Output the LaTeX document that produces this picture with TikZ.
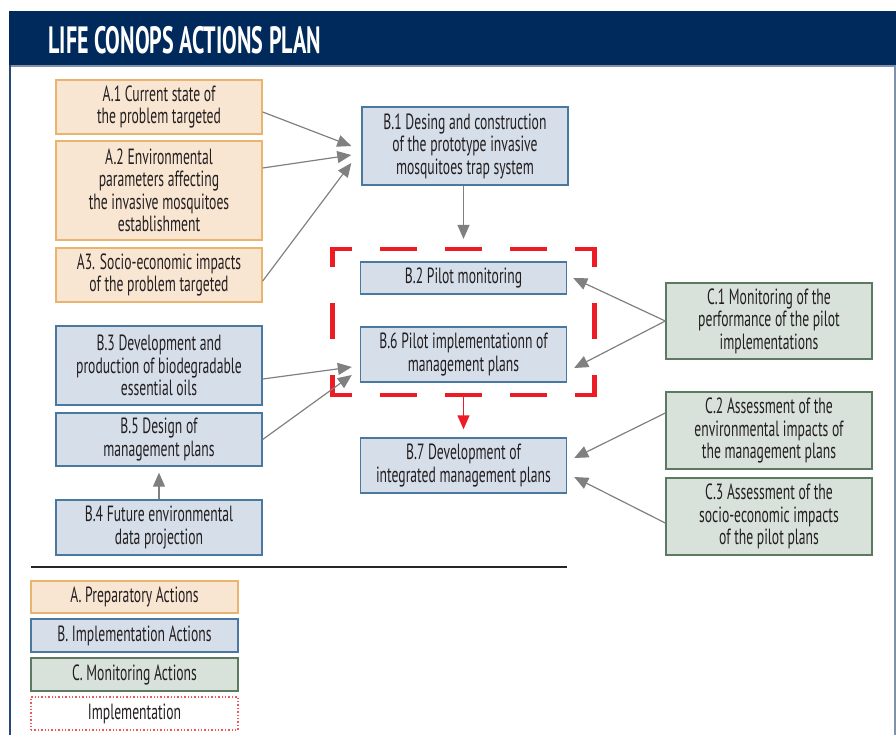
\documentclass[tikz,border=0pt]{standalone}
\usepackage{fontspec}
\setmainfont{PT Sans}[FakeStretch=0.62]
\newfontfamily\titlefont{PT Sans}[FakeStretch=0.58]
\usetikzlibrary{arrows.meta,positioning,fit}

\definecolor{navy}{RGB}{0,42,92}
\definecolor{framegray}{RGB}{128,145,171}
\definecolor{prepfill}{RGB}{249,230,210}
\definecolor{prepline}{RGB}{233,180,110}
\definecolor{implfill}{RGB}{214,222,234}
\definecolor{implline}{RGB}{74,121,160}
\definecolor{monfill}{RGB}{217,226,218}
\definecolor{monline}{RGB}{92,122,96}
\definecolor{arrowgray}{RGB}{128,128,128}
\definecolor{pilotred}{RGB}{237,28,36}
\definecolor{txt}{RGB}{35,31,32}

\tikzset{
  actbox/.style={draw, line width=0.7pt, text=txt, align=center, minimum width=103pt, inner sep=1pt, font=\fontsize{11}{11.25}\selectfont},
  prep/.style={actbox, draw=prepline, fill=prepfill},
  impl/.style={actbox, draw=implline, fill=implfill},
  mon/.style={actbox, draw=monline, fill=monfill},
  link/.style={draw=arrowgray, line width=0.6pt, -{Triangle[length=7pt,width=6pt]}},
  redlink/.style={draw=pilotred, line width=0.7pt, -{Triangle[length=7pt,width=6pt]}},
  pilot/.style={draw=pilotred, line width=2.2pt, line cap=rect},
}

\begin{document}
\begin{tikzpicture}[x=0.5pt,y=-0.5pt]
\useasboundingbox (0,0) rectangle (896,735);

% header and frame
\fill[navy] (9,11) rectangle (896,65);
\node[anchor=base west, inner sep=0, text=white, font=\titlefont\fontsize{19}{19}\selectfont\bfseries] (title) at (48,53) {LIFE CONOPS ACTIONS PLAN};
\draw[framegray, line width=0.8pt] (10,66) -- (895,66);
\draw[framegray, line width=0.8pt] (895,65) -- (895,735);
\draw[navy!85, line width=0.9pt] (10,65) -- (10,735);

% A actions
\node[prep, minimum height=27pt] (a1) at (159,107) {A.1 Current state of\\the problem targeted};
\node[prep, minimum height=49.5pt] (a2) at (159,190.5) {A.2 Environmental\\parameters affecting\\the invasive mosquitoes\\establishment};
\node[prep, minimum height=27pt] (a3) at (159,275) {A3. Socio-economic impacts\\of the problem targeted};

% B actions
\node[impl, minimum height=39.5pt] (b3) at (159,365.5) {B.3 Development and\\production of biodegradable\\essential oils};
\node[impl, minimum height=26.5pt] (b5) at (159,439.5) {B.5 Design of\\management plans};
\node[impl, minimum height=27.5pt] (b4) at (159,527.5) {B.4 Future environmental\\data projection};
\node[impl, minimum height=39pt] (b1) at (465,146) {B.1 Desing and construction\\of the prototype invasive\\mosquitoes trap system};
\node[impl, minimum height=16pt] (b2) at (463.5,278) {B.2 Pilot monitoring};
\node[impl, minimum height=27.5pt] (b6) at (463.5,354.5) {B.6 Pilot implementationn of\\management plans};
\node[impl, minimum height=27.5pt] (b7) at (463.5,465.5) {B.7 Development of\\integrated management plans};

% C actions
\node[mon, minimum height=38pt] (c1) at (769,321) {C.1 Monitoring of the\\performance of the pilot\\implementations};
\node[mon, minimum height=38.5pt] (c2) at (769,430.5) {C.2 Assessment of the\\environmental impacts of\\the management plans};
\node[mon, minimum height=38.5pt] (c3) at (769,516.5) {C.3 Assessment of the\\socio-economic impacts\\of the pilot plans};

% pilot group, dashed red
\node[fit=(b2)(b6), inner xsep=13.5pt, inner ysep=6pt] (pilot) {};
\foreach \s/\e in {north west/north east, south west/south east}
  \draw[pilot, dash pattern=on 16pt off 16.5pt, dash phase=7.5pt] (pilot.\s) -- (pilot.\e);
\foreach \s/\e in {north west/south west, north east/south east}
  \draw[pilot, dash pattern=on 16pt off 20pt, dash phase=8pt] (pilot.\s) -- (pilot.\e);

% links
\draw[link] ([yshift=-2.5pt]a1.east) -- ([xshift=-5pt]b1.west);
\draw[link] ([yshift=11.25pt]a2.east) -- ([xshift=-5pt,yshift=-4.5pt]b1.west);
\draw[link] ([yshift=-3pt]a3.east) -- ([xshift=-5pt,yshift=-8.5pt]b1.west);
\draw[link] (b1.south -| pilot.north) -- ([yshift=5pt]pilot.north);
\draw[link] ([yshift=-6.75pt]b3.east) -- ([xshift=-4pt,yshift=-6.25pt]b6.west);
\draw[link] (b5.east) -- ([xshift=-4pt,yshift=-10.25pt]b6.west);
\draw[link] (b4.north) -- ([yshift=-3pt]b5.south);
\draw[link] (c1.west) -- ([xshift=3pt]b2.east);
\draw[link] (c1.west) -- ([xshift=3.5pt,yshift=-6.75pt]b6.east);
\draw[link] ([yshift=8.75pt]c2.west) -- ([xshift=3.5pt,yshift=3.75pt]b7.east);
\draw[link] ([yshift=-3.25pt]c3.west) -- ([xshift=3.5pt,yshift=-5.75pt]b7.east);
\draw[redlink] (pilot.south) -- ([yshift=4pt]b7.north);

% legend
\draw[black!85, line width=0.9pt] (31,567) -- (567,567);
\node[prep, minimum width=103.5pt, minimum height=16pt] (keya) at (134.5,597) {A. Preparatory Actions};
\node[impl, minimum width=103.5pt, minimum height=16.5pt] (keyb) at (134.5,635.5) {B. Implementation Actions};
\node[mon, minimum width=103.5pt, minimum height=16.5pt] (keyc) at (134.5,674.5) {C. Monitoring Actions};
\node[actbox, draw=pilotred!75, densely dotted, fill=white, minimum width=103.5pt, minimum height=16.5pt] (keyp) at (134.5,713.5) {Implementation};
\end{tikzpicture}
\end{document}
